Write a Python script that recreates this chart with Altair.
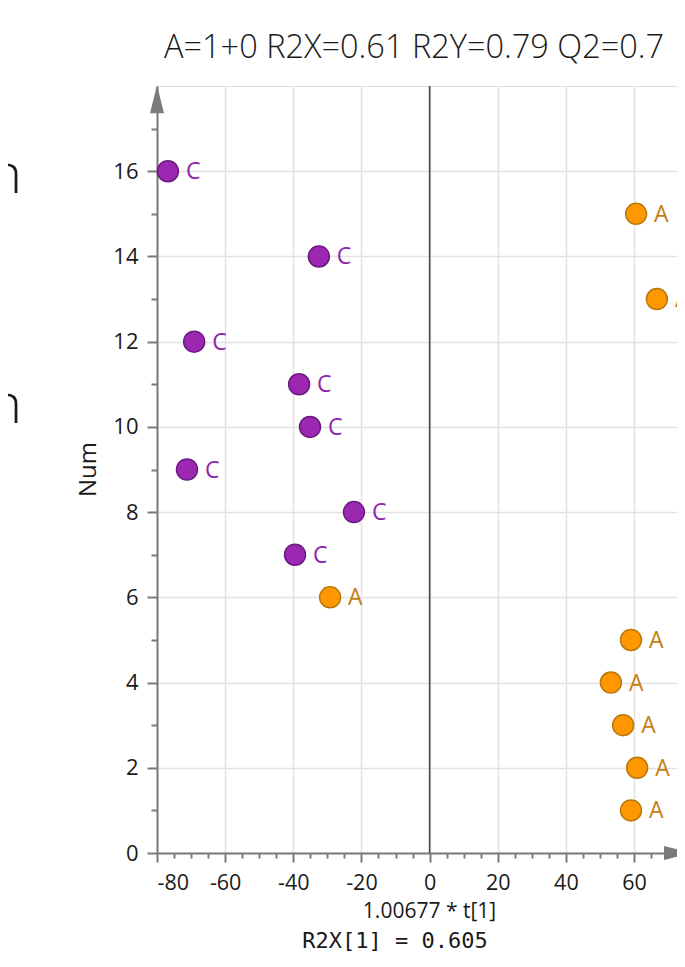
import altair as alt
import pandas as pd

# ---- data ----
num = list(range(1, 17))
t1 = [59.1, 60.9, 56.8, 53.2, 59.1, -29.2, -39.5, -22.2, -71.2, -35.1,
      -38.3, -69.1, 66.7, -32.5, 60.6, -76.8]
cls = ["A", "A", "A", "A", "A", "A", "C", "C", "C", "C",
       "C", "C", "A", "C", "A", "C"]

x_major = [-80, -60, -40, -20, 0, 20, 40, 60]
x_minor = [v for v in range(-75, 75, 5) if v % 20 != 0]
y_major = [0, 2, 4, 6, 8, 10, 12, 14, 16]
y_minor = [1, 3, 5, 7, 9, 11, 13, 15, 17]

title_text = "A=1+0 R2X=0.61 R2Y=0.79 Q2=0.7"
x_title = "1.00677 * t[1]"
x_sub = "R2X[1] = 0.605"
y_title = "Num"

classes = ["A", "C"]
fill_cols = ["#ff9800", "#9c27b0"]
stroke_cols = ["#b8780c", "#6a1b80"]
text_cols = ["#c57d10", "#8e24aa"]

df = pd.DataFrame({"t1": t1, "Num": num, "cls": cls})

FONT = "Open Sans"
AX = "#7a7a7a"
HYPHEN = "replace(datum.label, '\u2212', '-')"

xs = alt.Scale(domain=[-80, 72.6], nice=False, zero=False)
ys = alt.Scale(domain=[0, 18], nice=False, zero=False)

x_axis = alt.Axis(values=x_major, orient="bottom", grid=True, gridColor="#e2e2e2", gridWidth=1.5,
                  tickSize=9, tickWidth=2, tickColor=AX, domain=True, domainColor=AX, domainWidth=2,
                  labelFont=FONT, labelFontSize=21.5, labelColor="#1a1a1a", labelPadding=10,
                  labelExpr=HYPHEN,
                  title=x_title, titleFont=FONT, titleFontSize=21, titleFontWeight="normal",
                  titleColor="#1a1a1a", titleX=272, titleY=58, titleBaseline="middle", titleAlign="center")
y_axis = alt.Axis(values=y_major, orient="left", grid=True, gridColor="#e2e2e2", gridWidth=1.5,
                  tickSize=10, tickWidth=2, tickColor=AX, domain=True, domainColor=AX, domainWidth=2,
                  labelFont=FONT, labelFontSize=22, labelColor="#1a1a1a", labelPadding=9,
                  title=y_title, titleFont=FONT, titleFontSize=24, titleFontWeight="normal",
                  titleColor="#1a1a1a", titleX=-69, titleY=383, titleAngle=270,
                  titleBaseline="middle", titleAlign="center")

x_minor_axis = alt.Axis(values=x_minor, orient="bottom", grid=False, labels=False, domain=False,
                        tickSize=5, tickWidth=2, tickColor=AX, title=None)
y_minor_axis = alt.Axis(values=y_minor, orient="left", grid=False, labels=False, domain=False,
                        tickSize=6, tickWidth=2, tickColor=AX, title=None)

base = alt.Chart(df)

minor = base.mark_point(opacity=0).encode(
    x=alt.X("t1:Q", scale=xs, axis=x_minor_axis),
    y=alt.Y("Num:Q", scale=ys, axis=y_minor_axis),
)

zero_df = pd.DataFrame({"x": [0], "y": [0], "y2": [18]})
zero_line = alt.Chart(zero_df).mark_rule(color="#4a4a4a", strokeWidth=1.6).encode(
    x=alt.X("x:Q", scale=xs, axis=x_axis),
    y=alt.Y("y:Q", scale=ys, axis=y_axis),
    y2="y2:Q",
)

arrow_up = alt.Chart(pd.DataFrame({"x": [-80], "y": [17.69]})).mark_point(
    shape="M0,-1L0.5,1L-0.5,1Z", size=784, filled=True, color=AX, opacity=1, strokeWidth=0
).encode(x=alt.X("x:Q", scale=xs, axis=None), y=alt.Y("y:Q", scale=ys, axis=None))

arrow_right = alt.Chart(pd.DataFrame({"x": [72.9], "y": [0]})).mark_point(
    shape="M1,0L-1,-0.5L-1,0.5Z", size=784, filled=True, color=AX, opacity=1, strokeWidth=0
).encode(x=alt.X("x:Q", scale=xs, axis=None), y=alt.Y("y:Q", scale=ys, axis=None))

points = base.mark_circle(size=440, strokeWidth=1.5, opacity=1).encode(
    x=alt.X("t1:Q", scale=xs, axis=None),
    y=alt.Y("Num:Q", scale=ys, axis=None),
    fill=alt.Fill("cls:N", scale=alt.Scale(domain=classes, range=fill_cols), legend=None),
    stroke=alt.Stroke("cls:N", scale=alt.Scale(domain=classes, range=stroke_cols), legend=None),
)

labels = base.mark_text(align="left", baseline="middle", dx=18, dy=1, font=FONT,
                        fontSize=23).encode(
    x=alt.X("t1:Q", scale=xs, axis=None),
    y=alt.Y("Num:Q", scale=ys, axis=None),
    text="cls:N",
    color=alt.Color("cls:N", scale=alt.Scale(domain=classes, range=text_cols), legend=None),
)

title = alt.Chart(pd.DataFrame({"t": [title_text]})).mark_text(
    align="left", baseline="middle", font=FONT, fontSize=32.5, fontWeight=300, color="#1a1a1a"
).encode(x=alt.value(7), y=alt.value(-38), text="t:N")

sub = alt.Chart(pd.DataFrame({"t": [x_sub]})).mark_text(
    align="center", baseline="middle", font="DejaVu Sans Mono", fontSize=22, color="#1a1a1a"
).encode(x=alt.value(238), y=alt.value(855), text="t:N")

frag = alt.Chart(pd.DataFrame({"t": ["n", "n"], "yy": [107, 337]})).mark_text(
    align="right", baseline="alphabetic", font=FONT, fontSize=56, fontWeight=300, color="#1a1a1a"
).encode(x=alt.value(-135), y=alt.Y("yy:Q", scale=None, axis=None), text="t:N")

chart = alt.layer(
    zero_line, minor, arrow_up, arrow_right, points, labels, title, sub, frag
).resolve_axis(x="independent", y="independent").properties(
    width=520, height=767,
    autosize=alt.AutoSizeParams(type="none"),
    padding={"left": 149, "top": 78, "right": 0, "bottom": 99},
).configure_view(stroke=None).configure(background="white")

chart.save("out.html", embed_options={"renderer": "svg", "actions": False})
